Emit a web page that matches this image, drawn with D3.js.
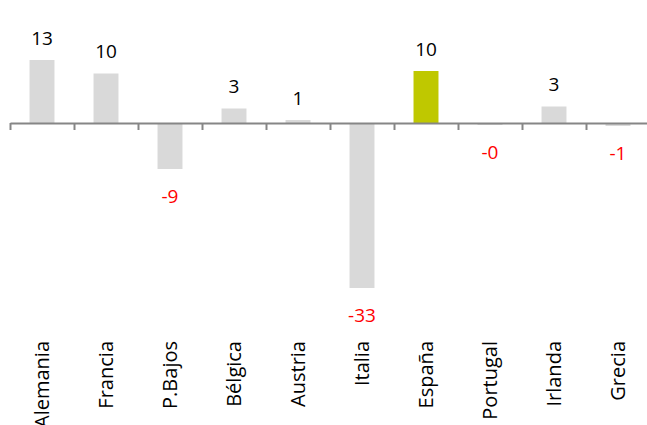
<!DOCTYPE html>
<html>
<head>
<meta charset="utf-8">
<script src="https://cdn.jsdelivr.net/npm/d3@7"></script>
<style>
  body { margin: 0; background: #fff; }
  text { font-family: "Open Sans", sans-serif; }
</style>
</head>
<body>
<svg id="chart" width="647" height="425"></svg>
<script>
var categories = ["Alemania", "Francia", "P.Bajos", "Bélgica", "Austria",
                  "Italia", "España", "Portugal", "Irlanda", "Grecia"];
var values = [12.6, 9.9, -9.2, 2.9, 0.6, -33, 10.4, -0.4, 3.3, -0.6];
var highlight = "España";

var svg = d3.select("#chart");

var x = d3.scaleBand()
    .domain(categories)
    .range([10, 650])
    .paddingInner(0.61)
    .paddingOuter(0.305);

var y = d3.scaleLinear()
    .domain([-35, 15])
    .range([298, 48]);

// boundaries between categories, for the tick marks
var bnd = d3.scaleLinear()
    .domain([0, categories.length])
    .range([10, 650]);

var data = categories.map(function(c, i) { return {name: c, value: values[i]}; });

function fmt(v) {
  var r = Math.abs(Math.round(v));
  return (v < 0 ? "-" : "") + r;
}

svg.selectAll("rect.bar")
    .data(data)
  .enter().append("rect")
    .attr("class", "bar")
    .attr("x", function(d) { return x(d.name); })
    .attr("width", x.bandwidth())
    .attr("y", function(d) { return y(Math.max(0, d.value)); })
    .attr("height", function(d) { return Math.abs(y(d.value) - y(0)); })
    .style("fill", function(d) { return d.name === highlight ? "#bfc800" : "#d9d9d9"; });

var axis = d3.axisBottom(bnd)
    .ticks(categories.length)
    .tickFormat("")
    .tickSize(7)
    .tickSizeOuter(0);

var gx = svg.append("g")
    .attr("transform", "translate(0," + y(0) + ")")
    .call(axis);
gx.select(".domain").style("stroke", "#868686").style("stroke-width", 2);
gx.selectAll(".tick line").style("stroke", "#868686").style("stroke-width", 2);

// value labels
svg.selectAll("text.val")
    .data(data)
  .enter().append("text")
    .attr("class", "val")
    .attr("x", function(d) { return x(d.name) + x.bandwidth() / 2; })
    .attr("y", function(d) { return d.value >= 0 ? y(d.value) - 22 : y(d.value) + 27; })
    .attr("dy", "0.35em")
    .style("text-anchor", "middle")
    .style("font-size", "19px")
    .style("fill", function(d) { return d.value < 0 ? "#ff0000" : "#000"; })
    .text(function(d) { return fmt(d.value); });

// category labels
svg.selectAll("text.cat")
    .data(categories)
  .enter().append("text")
    .attr("class", "cat")
    .attr("transform", function(d) {
      return "translate(" + (x(d) + x.bandwidth() / 2) + ",341) rotate(-90)";
    })
    .attr("dy", "0.35em")
    .style("text-anchor", "end")
    .style("font-size", "20px")
    .style("fill", "#000")
    .text(function(d) { return d; });
</script>
</body>
</html>
